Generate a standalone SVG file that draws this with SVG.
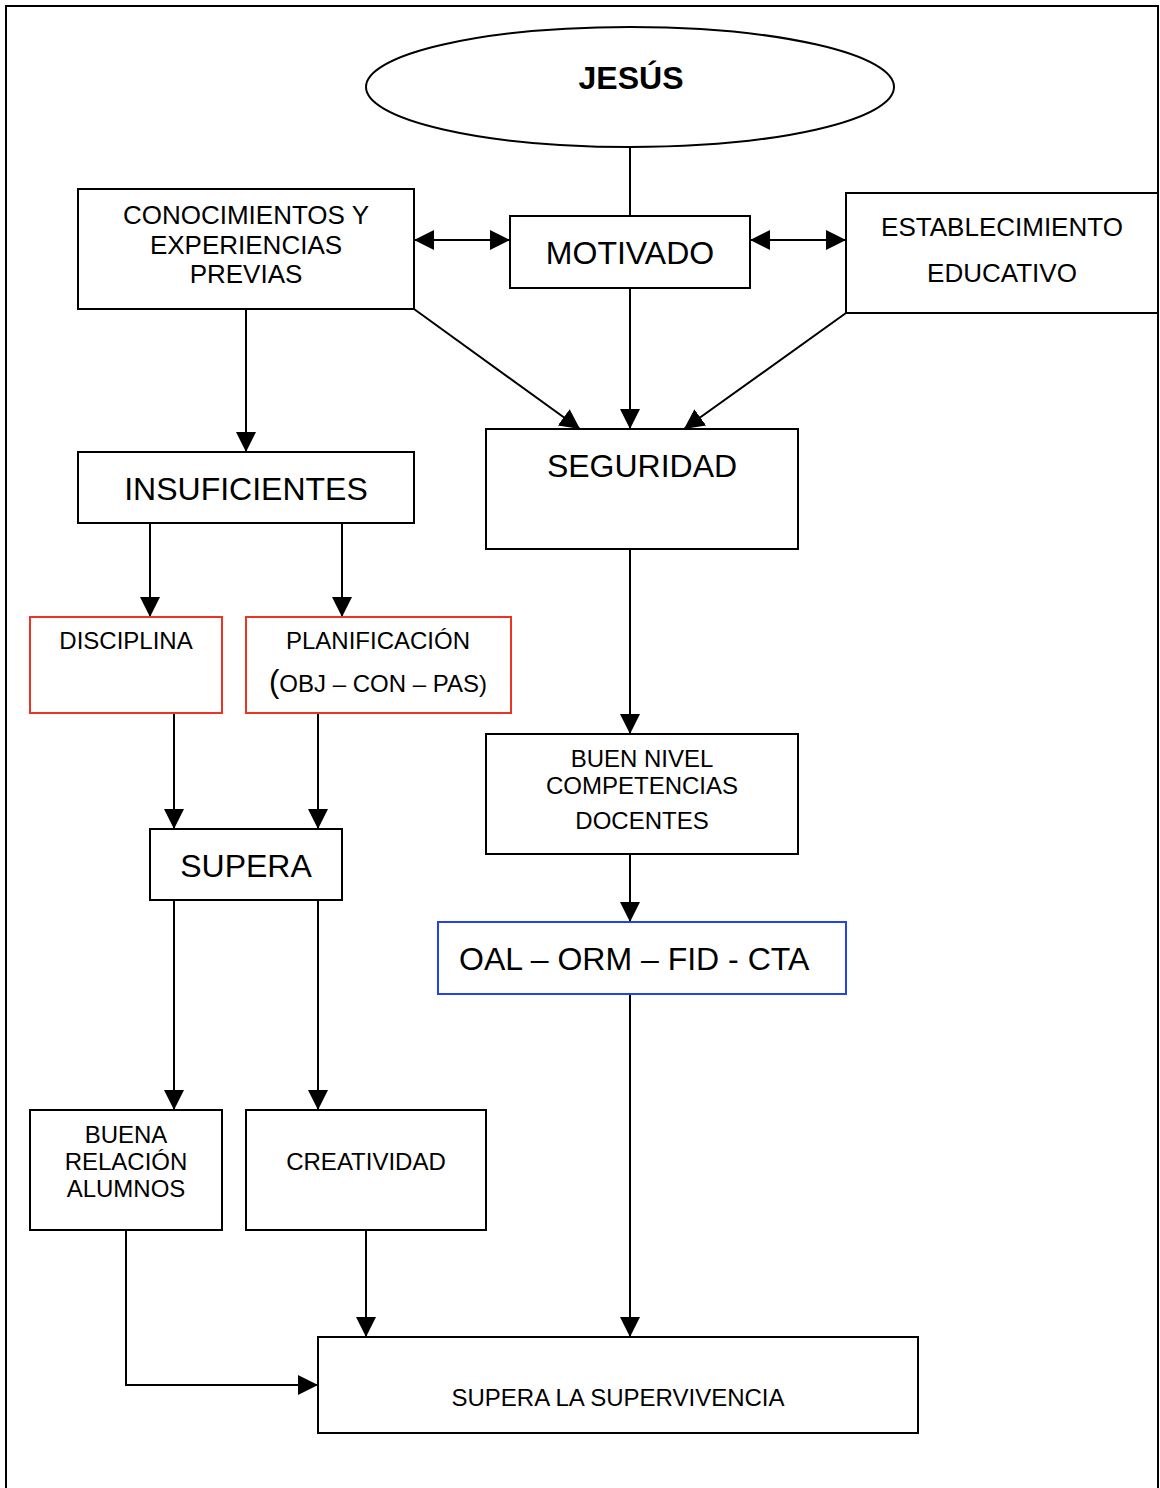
<svg xmlns="http://www.w3.org/2000/svg" width="1160" height="1488" viewBox="0 0 1160 1488">
<style>
  .box { fill: #ffffff; stroke: #000000; stroke-width: 2; }
  .red { fill: #ffffff; stroke: #ee3322; stroke-width: 2; }
  .blue { fill: #ffffff; stroke: #2244ee; stroke-width: 2; }
  .con { fill: none; stroke: #000000; stroke-width: 2; }
  text { font-family: "Liberation Sans", Arial, sans-serif; fill: #000000; text-anchor: middle; }
  text.left { text-anchor: start; }
  .t32 { font-size: 32px; }
  .t26 { font-size: 26px; }
  .t24 { font-size: 24px; }
</style>
<defs>
  <marker id="arr" markerUnits="userSpaceOnUse" markerWidth="20" markerHeight="20" refX="20" refY="10" orient="auto-start-reverse">
    <path d="M0,0 L20,10 L0,20 Z" fill="#000000"/>
  </marker>
</defs>
<rect x="6" y="6" width="1152" height="1500" fill="none" stroke="#000000" stroke-width="2"/>
<g id="connectors">
  <line class="con" x1="630" y1="147" x2="630" y2="216"/>
  <line class="con" x1="414" y1="240" x2="510" y2="240" marker-start="url(#arr)" marker-end="url(#arr)"/>
  <line class="con" x1="750" y1="240" x2="846" y2="240" marker-start="url(#arr)" marker-end="url(#arr)"/>
  <line class="con" x1="414" y1="309" x2="580" y2="429" marker-end="url(#arr)"/>
  <line class="con" x1="630" y1="288" x2="630" y2="429" marker-end="url(#arr)"/>
  <line class="con" x1="846" y1="313" x2="684" y2="429" marker-end="url(#arr)"/>
  <line class="con" x1="246" y1="309" x2="246" y2="452" marker-end="url(#arr)"/>
  <line class="con" x1="150" y1="523" x2="150" y2="617" marker-end="url(#arr)"/>
  <line class="con" x1="342" y1="523" x2="342" y2="617" marker-end="url(#arr)"/>
  <line class="con" x1="174" y1="711" x2="174" y2="829" marker-end="url(#arr)"/>
  <line class="con" x1="318" y1="711" x2="318" y2="829" marker-end="url(#arr)"/>
  <line class="con" x1="174" y1="900" x2="174" y2="1110" marker-end="url(#arr)"/>
  <line class="con" x1="318" y1="900" x2="318" y2="1110" marker-end="url(#arr)"/>
  <line class="con" x1="630" y1="547" x2="630" y2="734" marker-end="url(#arr)"/>
  <line class="con" x1="630" y1="852" x2="630" y2="922" marker-end="url(#arr)"/>
  <line class="con" x1="630" y1="994" x2="630" y2="1337" marker-end="url(#arr)"/>
  <line class="con" x1="366" y1="1227" x2="366" y2="1337" marker-end="url(#arr)"/>
  <polyline class="con" points="126,1227 126,1385 318,1385" marker-end="url(#arr)"/>
</g>
<g id="jesus">
  <ellipse cx="630" cy="87" rx="264" ry="60" class="box"/>
  <text x="631" y="89" class="t32" font-weight="bold">JESÚS</text>
</g>
<g id="conocimientos">
  <rect x="78" y="189" width="336" height="120" class="box"/>
  <text x="246" y="224" class="t26">CONOCIMIENTOS Y</text>
  <text x="246" y="254" class="t26">EXPERIENCIAS</text>
  <text x="246" y="283" class="t26">PREVIAS</text>
</g>
<g id="motivado">
  <rect x="510" y="216" width="240" height="72" class="box"/>
  <text x="630" y="264" class="t32">MOTIVADO</text>
</g>
<g id="establecimiento">
  <rect x="846" y="193" width="312" height="120" class="box"/>
  <text x="1002" y="236" class="t26">ESTABLECIMIENTO</text>
  <text x="1002" y="282" class="t26">EDUCATIVO</text>
</g>
<g id="seguridad">
  <rect x="486" y="429" width="312" height="120" class="box"/>
  <text x="642" y="477" class="t32">SEGURIDAD</text>
</g>
<g id="insuficientes">
  <rect x="78" y="452" width="336" height="71" class="box"/>
  <text x="246" y="500" class="t32">INSUFICIENTES</text>
</g>
<g id="disciplina">
  <rect x="30" y="617" width="192" height="96" class="red"/>
  <text x="126" y="649" class="t24">DISCIPLINA</text>
</g>
<g id="planificacion">
  <rect x="246" y="617" width="265" height="96" class="red"/>
  <text x="378" y="649" class="t24">PLANIFICACIÓN</text>
  <text x="378" y="692" class="t24"><tspan font-size="31px">(</tspan>OBJ – CON – PAS)</text>
</g>
<g id="supera">
  <rect x="150" y="829" width="192" height="71" class="box"/>
  <text x="246" y="877" class="t32">SUPERA</text>
</g>
<g id="buen-nivel">
  <rect x="486" y="734" width="312" height="120" class="box"/>
  <text x="642" y="767" class="t24">BUEN NIVEL</text>
  <text x="642" y="794" class="t24">COMPETENCIAS</text>
  <text x="642" y="829" class="t24">DOCENTES</text>
</g>
<g id="oal">
  <rect x="438" y="922" width="408" height="72" class="blue"/>
  <text x="459" y="970" class="t32 left">OAL – ORM – FID - CTA</text>
</g>
<g id="buena-relacion">
  <rect x="30" y="1110" width="192" height="120" class="box"/>
  <text x="126" y="1143" class="t24">BUENA</text>
  <text x="126" y="1170" class="t24">RELACIÓN</text>
  <text x="126" y="1197" class="t24">ALUMNOS</text>
</g>
<g id="creatividad">
  <rect x="246" y="1110" width="240" height="120" class="box"/>
  <text x="366" y="1170" class="t24">CREATIVIDAD</text>
</g>
<g id="supera-supervivencia">
  <rect x="318" y="1337" width="600" height="96" class="box"/>
  <text x="618" y="1406" class="t24">SUPERA LA SUPERVIVENCIA</text>
</g>
</svg>
